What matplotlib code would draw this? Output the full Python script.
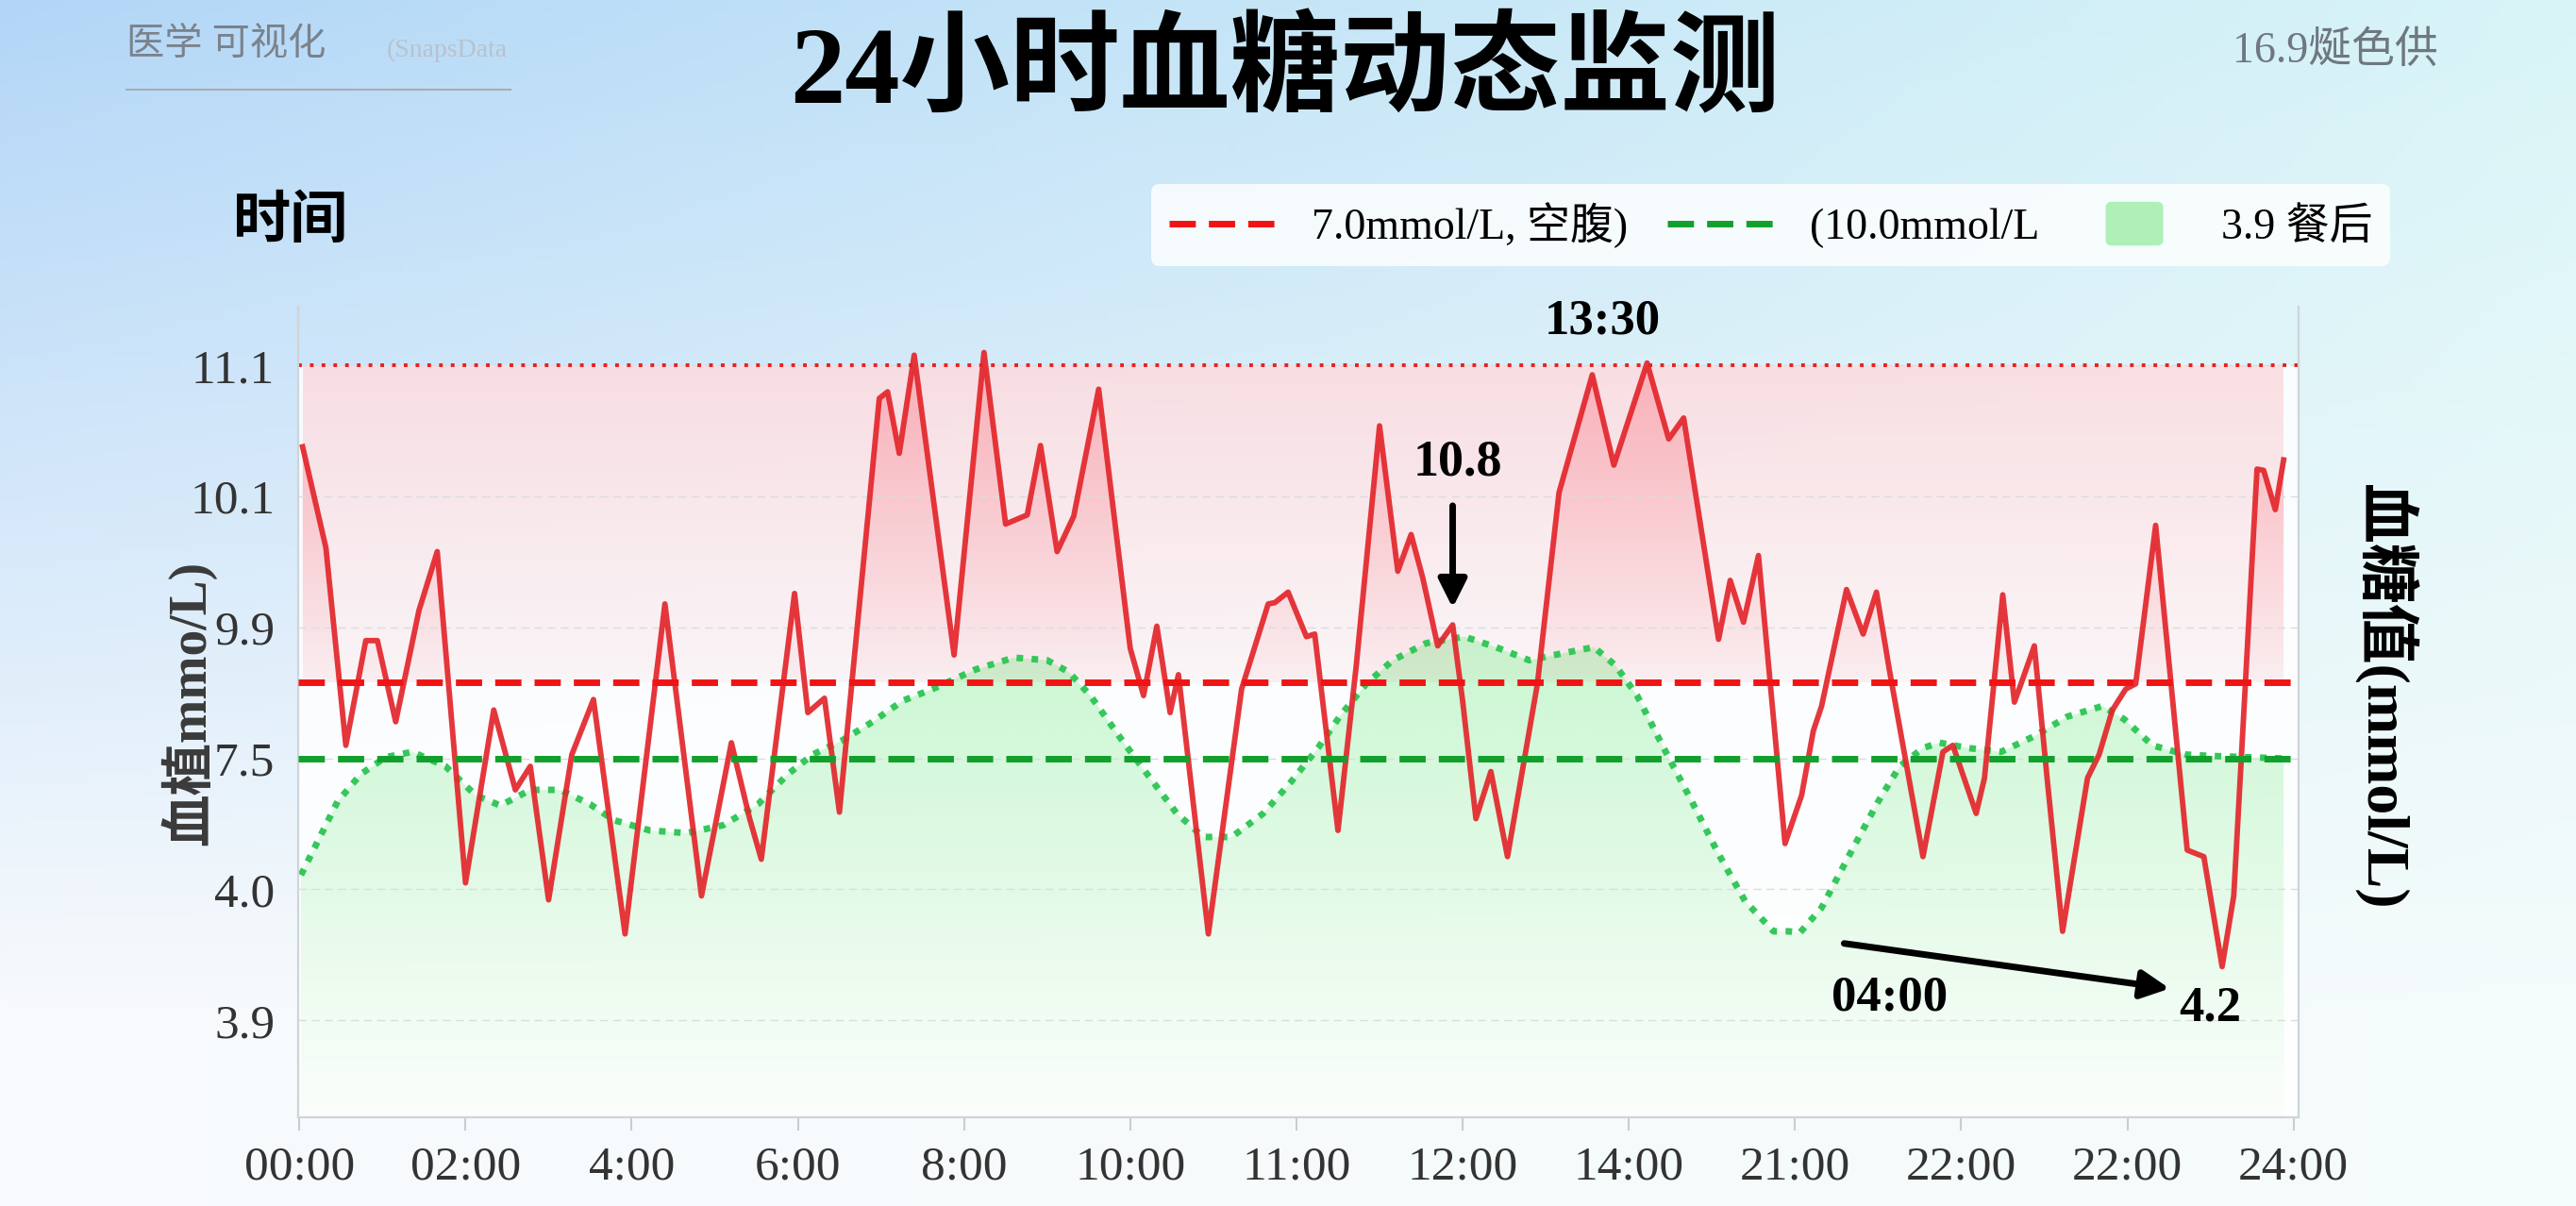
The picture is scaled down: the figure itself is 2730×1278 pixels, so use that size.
import numpy as np
import matplotlib
matplotlib.use("Agg")
import matplotlib.pyplot as plt
import matplotlib.patches as mpatches
from matplotlib.lines import Line2D
from matplotlib.path import Path
from matplotlib.legend_handler import HandlerPatch

plt.rcParams['font.family'] = ['Liberation Serif', 'Noto Sans CJK SC']

# ---- data (x = slot index of the tick labels, y = index of the y tick labels) ----
x_labels = ['00:00', '02:00', '4:00', '6:00', '8:00', '10:00', '11:00',
            '12:00', '14:00', '21:00', '22:00', '22:00', '24:00']
y_labels = ['3.9', '4.0', '7.5', '9.9', '10.1', '11.1']

glucose_x = [0.02, 0.16, 0.28, 0.40, 0.47, 0.58, 0.72, 0.83, 1.00, 1.17, 1.30, 1.39,
             1.50, 1.64, 1.77, 1.96, 2.20, 2.42, 2.60, 2.71, 2.78, 2.98, 3.06, 3.16,
             3.25, 3.49, 3.54, 3.61, 3.70, 3.94, 4.12, 4.25, 4.38, 4.46, 4.56, 4.66,
             4.81, 5.00, 5.08, 5.16, 5.24, 5.29, 5.47, 5.67, 5.83, 5.87, 5.95, 6.06,
             6.11, 6.25, 6.36, 6.50, 6.61, 6.69, 6.76, 6.85, 6.94, 7.00, 7.08, 7.17,
             7.27, 7.45, 7.58, 7.78, 7.91, 8.11, 8.24, 8.33, 8.54, 8.61, 8.69, 8.78,
             8.94, 9.04, 9.11, 9.16, 9.31, 9.41, 9.49, 9.57, 9.77, 9.89, 9.95, 10.09,
             10.14, 10.25, 10.32, 10.36, 10.44, 10.52, 10.61, 10.76, 10.83, 10.91,
             10.99, 11.05, 11.17, 11.36, 11.46, 11.57, 11.64, 11.71, 11.78, 11.82,
             11.89, 11.94]
glucose_y = [4.38, 3.61, 2.10, 2.90, 2.90, 2.28, 3.13, 3.58, 1.05, 2.37, 1.76, 1.94,
             0.92, 2.03, 2.45, 0.66, 3.18, 0.95, 2.12, 1.54, 1.23, 3.26, 2.35, 2.46,
             1.59, 4.75, 4.80, 4.33, 5.08, 2.79, 5.10, 3.79, 3.86, 4.39, 3.58, 3.85,
             4.82, 2.84, 2.48, 3.01, 2.35, 2.64, 0.66, 2.53, 3.18, 3.19, 3.27, 2.93,
             2.95, 1.45, 2.71, 4.54, 3.43, 3.71, 3.38, 2.86, 3.02, 2.44, 1.54, 1.90,
             1.25, 2.57, 4.03, 4.93, 4.24, 5.02, 4.44, 4.60, 2.91, 3.36, 3.04, 3.55,
             1.35, 1.72, 2.21, 2.40, 3.29, 2.95, 3.27, 2.66, 1.25, 2.05, 2.10, 1.58,
             1.85, 3.25, 2.43, 2.57, 2.86, 1.81, 0.68, 1.85, 2.03, 2.37,
             2.53, 2.57, 3.78, 1.30, 1.25, 0.41, 0.95, 2.57, 4.21, 4.20,
             3.90, 4.28]

ref_x = [0.01, 0.23, 0.37, 0.52, 0.68, 0.88, 1.06, 1.21, 1.39, 1.57, 1.75, 1.89,
         2.11, 2.33, 2.55, 2.76, 2.94, 3.09, 3.27, 3.45, 3.63, 3.81, 3.88, 4.07,
         4.30, 4.50, 4.63, 4.76, 4.95, 5.12, 5.28, 5.44, 5.61, 5.80, 5.96, 6.13,
         6.26, 6.42, 6.58, 6.78, 7.01, 7.20, 7.40, 7.59, 7.79, 7.92, 8.05, 8.21,
         8.38, 8.54, 8.70, 8.87, 8.96, 9.03, 9.16, 9.33, 9.50, 9.63, 9.77, 9.87,
         10.04, 10.24, 10.44, 10.64, 10.85, 10.98, 11.15, 11.35, 11.49, 11.94]
ref_y = [1.11, 1.67, 1.88, 2.01, 2.05, 1.94, 1.72, 1.64, 1.76, 1.76, 1.65, 1.53,
         1.45, 1.43, 1.49, 1.65, 1.88, 2.03, 2.14, 2.28, 2.44, 2.53, 2.57, 2.68,
         2.77, 2.75, 2.66, 2.48, 2.14, 1.85, 1.58, 1.40, 1.40, 1.58, 1.81, 2.08,
         2.32, 2.57, 2.75, 2.88, 2.93, 2.85, 2.75, 2.80, 2.85, 2.71, 2.48, 2.08,
         1.67, 1.27, 0.91, 0.68, 0.68, 0.67, 0.86, 1.27, 1.67, 1.94, 2.08, 2.12,
         2.08, 2.05, 2.17, 2.32, 2.40, 2.30, 2.10, 2.03, 2.02, 2.00]

high_line = 2.58      # red dashed level
low_line = 2.0        # green dashed level
top_line = 5.0        # red dotted level

glucose_x = np.array(glucose_x)
glucose_y = np.array(glucose_y)
ref_x = np.array(ref_x)
ref_y = np.array(ref_y)

YMIN, YMAX = -0.74, 5.45
XMIN, XMAX = -0.006, 12.03

fig = plt.figure(figsize=(27.3, 12.78), dpi=100)

# background gradient
bg = fig.add_axes([0, 0, 1, 1], zorder=-5)
bg.axis('off')
ny, nx = 200, 300
u = np.linspace(0, 1, nx)[None, :, None]
v = np.linspace(0, 1, ny)[:, None, None]
tl = np.array([0.70, 0.84, 0.97])
tr = np.array([0.85, 0.96, 0.97])
bl = np.array([0.97, 0.98, 0.99])
br = np.array([0.96, 0.985, 0.985])
top = tl * (1 - u) + tr * u
bot = bl * (1 - u) + br * u
vv = np.clip(v * 1.2, 0, 1)
bg_img = top * (1 - vv) + bot * vv
bg.imshow(bg_img, extent=[0, 1, 0, 1], aspect='auto', origin='upper')
bg.set_xlim(0, 1)
bg.set_ylim(0, 1)

ax = fig.add_axes([0.1158, 0.0736, 0.8923 - 0.1158, 0.7457 - 0.0736])
ax.set_facecolor('none')


def grad_fill(paths, rgb, a_top, a_bot, ytop, ybot, z):
    img = np.zeros((256, 1, 4))
    img[..., :3] = rgb
    img[:, 0, 3] = np.linspace(a_top, a_bot, 256)
    im = ax.imshow(img, extent=[XMIN, XMAX, ybot, ytop], aspect='auto',
                   origin='upper', zorder=z, interpolation='bilinear')
    im.set_clip_path(Path.make_compound_path(*paths), transform=ax.transData)


# white plot area below the 11.1 line
ax.axhspan(YMIN, top_line, color='white', alpha=0.85, lw=0, zorder=0.5)

# light pink band
band = ax.fill_between([glucose_x[0], glucose_x[-1]], high_line, top_line,
                       facecolor='none', edgecolor='none')
grad_fill(band.get_paths(), (0.97, 0.62, 0.66), 0.32, 0.08, top_line, high_line, 1)

# stronger pink under the curve above the high line
hi = ax.fill_between(glucose_x, high_line, glucose_y, where=glucose_y > high_line,
                     interpolate=True, facecolor='none', edgecolor='none')
grad_fill(hi.get_paths(), (0.99, 0.45, 0.50), 0.42, 0.05, top_line, high_line, 1.2)

# green area under the reference curve
gr = ax.fill_between(ref_x, YMIN, ref_y, facecolor='none', edgecolor='none')
grad_fill(gr.get_paths(), (0.55, 0.94, 0.60), 0.45, 0.02, 2.95, YMIN, 1.1)

# reference lines
ax.axhline(top_line, color='#e82020', lw=2.8, ls=(0, (1, 2.2)), zorder=2)
ax.axhline(high_line, color='#f01414', lw=5, ls=(0, (4, 2)), zorder=4)
ax.axhline(low_line, color='#12a02c', lw=5, ls=(0, (4, 2)), zorder=4)

ax.plot(ref_x, ref_y, color='#35c75a', lw=5, ls=(0, (1, 1.3)), zorder=2.5)
ax.plot(glucose_x, glucose_y, color='#e3262b', lw=4.2, alpha=0.92, zorder=3)

# annotations
bold = dict(fontweight='bold', color='black', ha='center', va='center')
ax.text(6.97, 4.26, '10.8', fontsize=39, **bold)
ax.annotate('', xy=(6.94, 3.13), xytext=(6.94, 3.95),
            arrowprops=dict(arrowstyle='-|>', lw=5, color='black', mutation_scale=45),
            zorder=6)
ax.text(7.84, 5.34, '13:30', fontsize=38, **bold)
ax.text(9.57, 0.17, '04:00', fontsize=38, **bold)
ax.text(11.50, 0.09, '4.2', fontsize=38, **bold)
ax.annotate('', xy=(11.27, 0.24), xytext=(9.28, 0.59),
            arrowprops=dict(arrowstyle='-|>', lw=5, color='black', mutation_scale=45),
            zorder=6)

# axes styling
ax.set_xlim(XMIN, XMAX)
ax.set_ylim(YMIN, YMAX)
ax.set_xticks(range(len(x_labels)))
ax.set_xticklabels(x_labels, fontsize=37, color='#333333')
ax.set_yticks(range(len(y_labels)))
ax.set_yticklabels(y_labels, fontsize=37, color='#333333')
ax.tick_params(axis='x', length=10, width=1.5, color='#c8cdd2', pad=12)
ax.tick_params(axis='y', length=0, pad=18)
ax.yaxis.grid(True, color='#dcdcdc', ls=(0, (6, 4)), lw=1)
for s in ['left', 'bottom', 'right']:
    ax.spines[s].set_color('#cfd4d8')
    ax.spines[s].set_linewidth(1.6)
ax.spines['top'].set_visible(False)

# legend
def small_box(legend, orig_handle, xdescent, ydescent, width, height, fontsize):
    return mpatches.FancyBboxPatch((width * 0.25 - xdescent, -ydescent - height * 0.2),
                                   width * 0.5, height * 1.4,
                                   boxstyle='round,pad=0,rounding_size=4')

handles = [Line2D([], [], color='#f01414', lw=5, ls=(0, (4, 2))),
           Line2D([], [], color='#12a02c', lw=5, ls=(0, (4, 2))),
           mpatches.Patch(color='#aef0b8')]
labels = ['7.0mmol/L, 空腹)', '(10.0mmol/L', '3.9 餐后']
leg = fig.legend(handles, labels, loc='upper right', bbox_to_anchor=(0.928, 0.8474),
                 borderaxespad=0, ncol=3, fontsize=33, frameon=True, facecolor='white',
                 framealpha=0.8, edgecolor='none', handlelength=2.6, handletextpad=0.7,
                 columnspacing=0.9, borderpad=0.42,
                 handler_map={mpatches.Patch: HandlerPatch(patch_func=small_box)})

# titles and labels
fig.text(0.499, 0.938, '24小时血糖动态监测', fontsize=84, fontweight='bold',
         ha='center', va='center', color='black')
fig.text(0.049, 0.962, '医学 可视化', fontsize=29, color='#7a828c', ha='left', va='center')
fig.text(0.150, 0.958, '(SnapsData', fontsize=20, color='#b8c2cc', ha='left', va='center')
fig.add_artist(Line2D([0.049, 0.198], [0.926, 0.926], color='#a4adb6', lw=1.5))
fig.text(0.8667, 0.957, '16.9烻色供', fontsize=33, color='#6f7780', ha='left', va='center')
fig.text(0.113, 0.815, '时间', fontsize=44, fontweight='bold', ha='center', va='center')
fig.text(0.073, 0.417, '血植mmo/L)', fontsize=40, fontweight='bold', color='#3a3a3a',
         rotation=90, ha='center', va='center')
fig.text(0.9256, 0.4225, '血糖值(mmol/L)', fontsize=46, fontweight='bold',
         rotation=270, ha='center', va='center')

fig.savefig('out.png', dpi=100)
